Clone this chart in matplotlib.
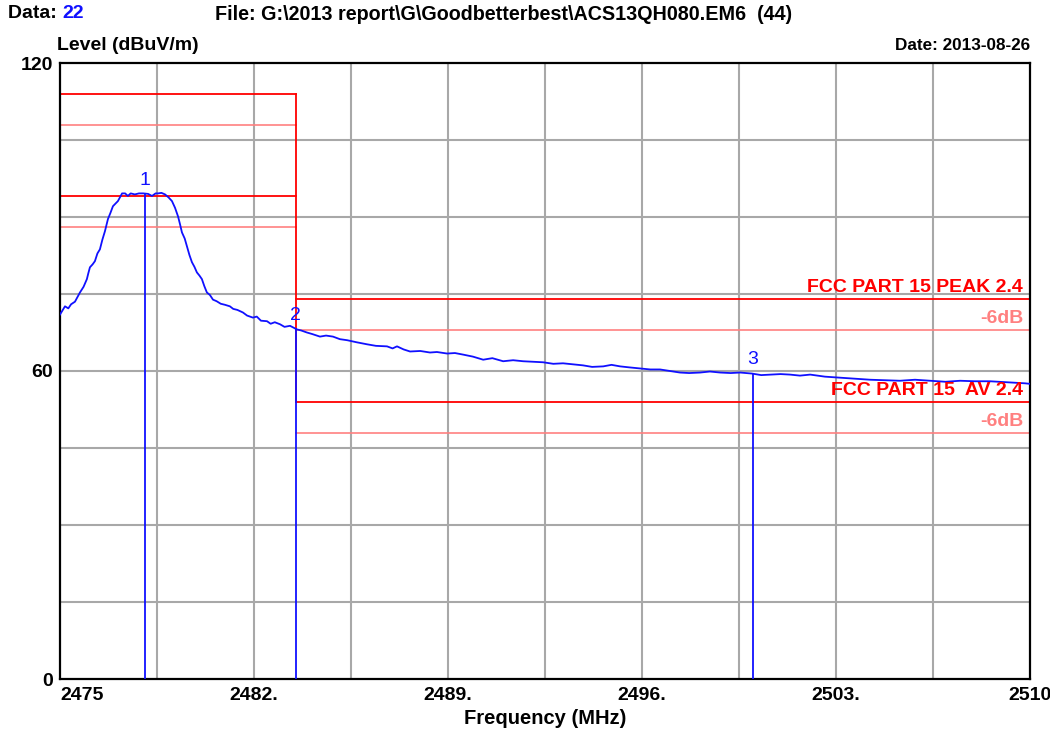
import numpy as np
import matplotlib
matplotlib.use('Agg')
import matplotlib.pyplot as plt

# Barrido medido (MHz, dBuV/m)
freq = [2475.00, 2475.10, 2475.18, 2475.30, 2475.40, 2475.54, 2475.62, 2475.72, 2475.85, 2475.97,
        2476.02, 2476.08, 2476.18, 2476.26, 2476.35, 2476.44, 2476.53, 2476.62, 2476.73, 2476.82,
        2476.91, 2477.00, 2477.09, 2477.17, 2477.24, 2477.35, 2477.45, 2477.55, 2477.70, 2477.85,
        2478.00, 2478.18, 2478.32, 2478.45, 2478.54, 2478.66, 2478.79, 2478.92, 2479.04, 2479.15,
        2479.26, 2479.33, 2479.40, 2479.50, 2479.58, 2479.67, 2479.76, 2479.85, 2479.94, 2480.03,
        2480.12, 2480.21, 2480.30, 2480.41, 2480.52, 2480.65, 2480.80, 2480.95, 2481.13, 2481.25,
        2481.40, 2481.60, 2481.75, 2481.96, 2482.10, 2482.25, 2482.47, 2482.60, 2482.75, 2482.94,
        2483.10, 2483.30, 2483.55, 2483.70, 2483.91, 2484.10, 2484.38, 2484.60, 2484.85, 2485.10,
        2485.36, 2485.70, 2486.08, 2486.40, 2486.80, 2487.00, 2487.16, 2487.40, 2487.63, 2488.00,
        2488.35, 2488.60, 2488.97, 2489.25, 2489.54, 2489.90, 2490.27, 2490.60, 2490.99, 2491.35,
        2491.71, 2492.10, 2492.43, 2492.80, 2493.15, 2493.50, 2493.87, 2494.20, 2494.60, 2494.90,
        2495.21, 2495.55, 2495.93, 2496.30, 2496.65, 2497.00, 2497.37, 2497.70, 2498.10, 2498.45,
        2498.82, 2499.20, 2499.54, 2499.97, 2500.30, 2500.62, 2501.00, 2501.34, 2501.70, 2502.07,
        2502.60, 2503.15, 2503.70, 2504.23, 2504.80, 2505.31, 2505.85, 2506.40, 2506.95, 2507.48,
        2508.00, 2508.56, 2509.20, 2509.82, 2510.00]
nivel = [71.0, 71.9, 72.6, 72.2, 73.0, 73.5, 74.3, 75.3, 76.4, 77.9,
         79.0, 80.2, 80.8, 81.4, 82.9, 83.7, 85.6, 87.2, 89.6, 90.8,
         92.1, 92.6, 93.1, 93.9, 94.6, 94.6, 94.1, 94.6, 94.4, 94.6,
         94.6, 94.5, 94.1, 94.6, 94.6, 94.7, 94.4, 93.8, 93.1, 91.8,
         90.1, 88.6, 87.0, 85.8, 84.3, 82.6, 81.2, 80.3, 79.2, 78.6,
         77.9, 76.5, 75.3, 74.8, 73.9, 73.6, 73.1, 72.9, 72.6, 72.1,
         71.9, 71.4, 70.8, 70.4, 70.6, 69.8, 69.7, 69.2, 69.5, 69.1,
         68.6, 68.8, 68.1, 67.9, 67.5, 67.2, 66.7, 66.9, 66.7, 66.2,
         66.0, 65.6, 65.2, 64.9, 64.8, 64.4, 64.8, 64.2, 63.8, 63.9,
         63.6, 63.7, 63.4, 63.5, 63.2, 62.8, 62.2, 62.5, 61.9, 62.1,
         61.9, 61.8, 61.7, 61.4, 61.5, 61.3, 61.1, 60.8, 60.9, 61.2,
         60.9, 60.7, 60.5, 60.3, 60.3, 60.0, 59.7, 59.6, 59.7, 59.9,
         59.7, 59.6, 59.7, 59.5, 59.2, 59.3, 59.4, 59.3, 59.1, 59.3,
         58.9, 58.7, 58.5, 58.3, 58.2, 58.1, 58.3, 58.1, 57.9, 58.1,
         58.0, 58.0, 57.8, 57.6, 57.5]

# Marcadores
marc_f = [2478.05, 2483.50, 2500.00]
marc_nivel = [94.5, 68.1, 59.5]
marc_txt = ['1', '2', '3']

# Limites FCC: dentro de banda (izq) y banda restringida (der)
f_borde = 2483.5
lim_izq = [114, 94]
lim_der = [74, 54]
lim_nombres = ['FCC PART 15 PEAK 2.4', 'FCC PART 15  AV 2.4']
margen = 6

x_ticks = [2475, 2482, 2489, 2496, 2503, 2510]
x_labels = ['2475', '2482.', '2489.', '2496.', '2503.', '2510']
y_ticks = [0, 60, 120]

rojo = '#ff0000'
rojo_claro = '#ff8080'
azul = '#1010ff'
fuente = ['Liberation Sans', 'DejaVu Sans']

fig = plt.figure(figsize=(10.5, 7.34), dpi=100)
ax = fig.add_axes([60/1050, 1-679/734, 970/1050, 616/734])
ax.set_xlim(2475, 2510)
ax.set_ylim(0, 120)

# Rejilla
for g in np.arange(2475, 2510.01, 3.5)[1:-1]:
    ax.axvline(g, color='#a8a8a8', lw=1.5, zorder=1)
for g in np.arange(0, 120.01, 15)[1:-1]:
    ax.axhline(g, color='#a8a8a8', lw=1.5, zorder=1)

# Lineas de limite
for l in lim_izq:
    ax.plot([2475, f_borde], [l, l], color=rojo, lw=1.3, zorder=2)
    ax.plot([2475, f_borde], [l-margen, l-margen], color=rojo_claro, lw=1.2, zorder=2)
for l, nom in zip(lim_der, lim_nombres):
    ax.plot([f_borde, 2510], [l, l], color=rojo, lw=1.3, zorder=2)
    ax.plot([f_borde, 2510], [l-margen, l-margen], color=rojo_claro, lw=1.2, zorder=2)
    ax.annotate(nom, (2510, l), xytext=(-5, 2), textcoords='offset points', ha='right', va='bottom',
                color=rojo, fontsize=14, fontweight='bold', family=fuente, zorder=5)
    ax.annotate('-6dB', (2510, l-margen), xytext=(-5, 2), textcoords='offset points', ha='right', va='bottom',
                color=rojo_claro, fontsize=14, fontweight='bold', family=fuente, zorder=5)
ax.plot([f_borde, f_borde], [lim_izq[0], lim_der[1]], color=rojo, lw=1.3, zorder=2)

# Traza
ax.plot(freq, nivel, color=azul, lw=1.3, zorder=3)

# Marcadores
for f, n, t in zip(marc_f, marc_nivel, marc_txt):
    ax.plot([f, f], [0, n], color=azul, lw=1.3, zorder=4)
    ax.annotate(t, (f, n), xytext=(0, 10), textcoords='offset points', ha='center', va='center',
                color=azul, fontsize=14, family=fuente, zorder=5)

for s in ax.spines.values():
    s.set_linewidth(1.6)
    s.set_color('black')

ax.tick_params(length=0, pad=6)
ax.set_xticks(x_ticks)
ax.set_xticklabels(x_labels, fontsize=14, fontweight='bold', family=fuente)
ax.get_xticklabels()[0].set_ha('left')
ax.set_yticks(y_ticks)
ax.set_yticklabels([str(v) for v in y_ticks], fontsize=14, fontweight='bold', family=fuente)
ax.tick_params(axis='y', pad=5)
ax.set_xlabel('Frequency (MHz)', fontsize=14.5, fontweight='bold', family=fuente, labelpad=3)

# Encabezado
fig.text(8/1050, 1-14/734, 'Data: ', fontsize=14, fontweight='bold', family=fuente, va='center')
fig.text(62/1050, 1-14/734, '22', fontsize=14, fontweight='bold', family=fuente, va='center', color=azul)
fig.text(215/1050, 1-14/734, 'File: G:\\2013 report\\G\\Goodbetterbest\\ACS13QH080.EM6  (44)',
         fontsize=14.2, fontweight='bold', family=fuente, va='center')
fig.text(57/1050, 1-46/734, 'Level (dBuV/m)', fontsize=14, fontweight='bold', family=fuente, va='center')
fig.text(1030/1050, 1-46/734, 'Date: 2013-08-26', fontsize=12.3, fontweight='bold', family=fuente,
         va='center', ha='right')

fig.savefig('out.png', dpi=100)
